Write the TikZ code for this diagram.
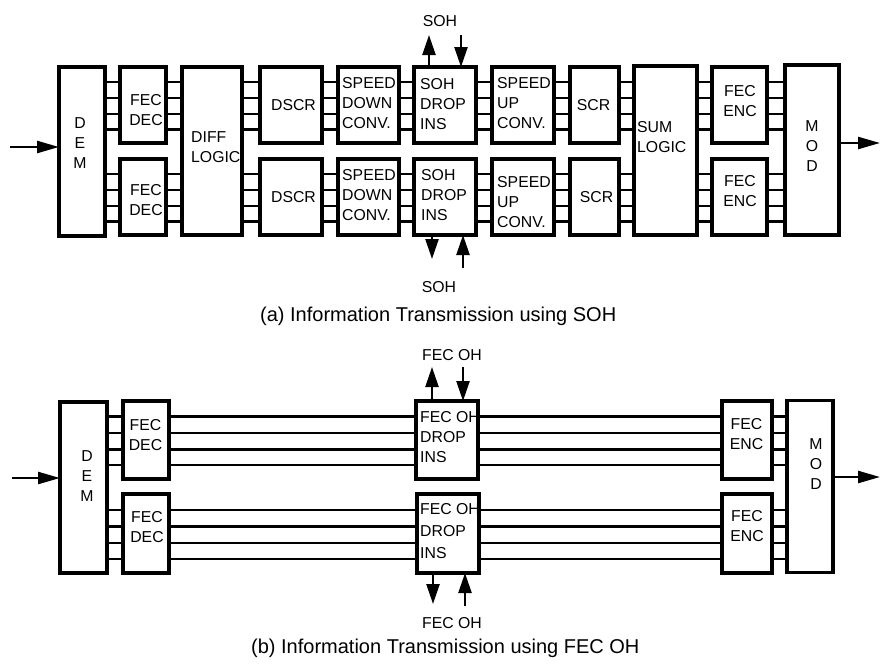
\documentclass[tikz,border=0pt]{standalone}
\usepackage{fontspec}
\setmainfont{Liberation Sans}
\usetikzlibrary{arrows.meta,calc}
\tikzset{
 box/.style={draw, line width=3.1pt, inner sep=0pt, outer sep=0pt},
 link/.style={line width=2.5pt},
 txt/.style={font=\fontsize{15.8}{20}\selectfont, inner sep=0pt, align=center},
 ltxt/.style={txt, align=left, anchor=west},
 captxt/.style={font=\fontsize{20}{24}\selectfont, inner sep=0pt, anchor=west},
 arr/.style={line width=2.4pt, -{Triangle[length=22pt,width=12pt]}},
 varr/.style={line width=2.4pt, -{Triangle[length=20pt,width=13pt]}},
}
\newcommand\mklinks[3]{%
  \foreach \f in {0.2,0.41,0.62,0.82}{%
    \coordinate (lk) at ($(#3.north)!\f!(#3.south)$);
    \draw[link] (#1.east |- lk) -- (#2.west |- lk);
  }%
}
\begin{document}
\begin{tikzpicture}[x=1pt,y=-1pt]
\useasboundingbox (0,0) rectangle (880,664);
% ================= (a) =================
\node[box, minimum width=46pt, minimum height=169pt] (dem) at (82,151.5) {};
\node[box, minimum width=46pt, minimum height=76pt] (fd1) at (143,105) {};
\node[box, minimum width=46pt, minimum height=76pt] (fd2) at (143,197) {};
\node[box, minimum width=60pt, minimum height=168pt] (diff) at (212,151) {};
\node[box, minimum width=62pt, minimum height=76pt] (ds1) at (291,105) {};
\node[box, minimum width=62pt, minimum height=76pt] (ds2) at (291,197) {};
\node[box, minimum width=61pt, minimum height=76pt] (sd1) at (368.5,105) {};
\node[box, minimum width=61pt, minimum height=76pt] (sd2) at (368.5,197) {};
\node[box, minimum width=62pt, minimum height=76pt] (soh1) at (445,105) {};
\node[box, minimum width=62pt, minimum height=76pt] (soh2) at (445,197) {};
\node[box, minimum width=62pt, minimum height=76pt] (su1) at (523,105) {};
\node[box, minimum width=62pt, minimum height=76pt] (su2) at (523,197) {};
\node[box, minimum width=49pt, minimum height=76pt] (scr1) at (594.5,105) {};
\node[box, minimum width=49pt, minimum height=76pt] (scr2) at (594.5,197) {};
\node[box, minimum width=63pt, minimum height=169pt] (sum) at (665.5,150.5) {};
\node[box, minimum width=55pt, minimum height=76pt] (fe1) at (739.5,105) {};
\node[box, minimum width=55pt, minimum height=76pt] (fe2) at (739.5,197) {};
\node[box, minimum width=54pt, minimum height=170pt] (mod) at (812,150) {};
% texts
\node[txt] (tdem) at (80,143) {D\\E\\M};
\node[txt] (tfd1) at (146,110) {FEC\\DEC};
\node[txt] (tfd2) at (146,200) {FEC\\DEC};
\node[ltxt] (tdiff) at (191,147.5) {DIFF\\LOGIC};
\node[txt] (tds1) at (293.5,105) {DSCR};
\node[txt] (tds2) at (293.5,197) {DSCR};
\node[ltxt] (tsd1) at (342,103) {SPEED\\DOWN\\CONV.};
\node[ltxt] (tsd2) at (342,195) {SPEED\\DOWN\\CONV.};
\node[ltxt] (tsoh1) at (420,104) {SOH\\DROP\\INS};
\node[ltxt] (tsoh2) at (421,195) {SOH\\DROP\\INS};
\node[ltxt] (tsu1) at (497,103) {SPEED\\UP\\ CONV.};
\node[ltxt] (tsu2) at (497,202.5) {SPEED\\UP\\CONV.};
\node[txt] (tscr1) at (593.5,105) {SCR};
\node[txt] (tscr2) at (596.5,197) {SCR};
\node[ltxt] (tsum) at (637,137) {SUM\\LOGIC};
\node[txt] (tfe1) at (740,101.5) {FEC\\ ENC};
\node[txt] (tfe2) at (740,191) {FEC\\ENC};
\node[txt] (tmod) at (812,146) {M\\O\\D};
% links
\mklinks{dem}{fd1}{fd1}
\mklinks{dem}{fd2}{fd2}
\mklinks{fd1}{diff}{fd1}
\mklinks{fd2}{diff}{fd2}
\mklinks{diff}{ds1}{ds1}
\mklinks{diff}{ds2}{ds2}
\mklinks{ds1}{sd1}{ds1}
\mklinks{ds2}{sd2}{ds2}
\mklinks{sd1}{soh1}{sd1}
\mklinks{sd2}{soh2}{sd2}
\mklinks{soh1}{su1}{soh1}
\mklinks{soh2}{su2}{soh2}
\mklinks{su1}{scr1}{su1}
\mklinks{su2}{scr2}{su2}
\mklinks{scr1}{sum}{scr1}
\mklinks{scr2}{sum}{scr2}
\mklinks{sum}{fe1}{fe1}
\mklinks{sum}{fe2}{fe2}
\mklinks{fe1}{mod}{fe1}
\mklinks{fe2}{mod}{fe2}
% in/out arrows
\coordinate (ina) at (10,147);
\coordinate (outa) at (880,143);
\draw[arr] (ina) -- (dem.west |- ina);
\draw[arr] (mod.east |- outa) -- (outa);
% SOH arrows
\coordinate (sa1) at (429,35);
\coordinate (sa2) at (461,35);
\coordinate (sa3) at (432,259);
\coordinate (sa4) at (463,268);
\draw[varr] (soh1.north -| sa1) -- (sa1);
\draw[varr] (sa2) -- (soh1.north -| sa2);
\draw[varr] (soh2.south -| sa3) -- (sa3);
\draw[varr] (sa4) -- (soh2.south -| sa4);
\node[txt] (lsoh1) at (440,21) {SOH};
\node[txt] (lsoh2) at (439,287) {SOH};
\node[captxt] (capa) at (260,316) {(a) Information Transmission using SOH};
% ================= (b) =================
\node[box, minimum width=47pt, minimum height=171pt] (dem2) at (83.5,487.5) {};
\node[box, minimum width=46pt, minimum height=78pt] (fd3) at (146,440) {};
\node[box, minimum width=46pt, minimum height=79pt] (fd4) at (146,533.5) {};
\node[box, minimum width=62pt, minimum height=78pt] (oh1) at (447,440) {};
\node[box, minimum width=62pt, minimum height=79pt] (oh2) at (448,533.5) {};
\node[box, minimum width=50pt, minimum height=78pt] (fe3) at (747,440) {};
\node[box, minimum width=50pt, minimum height=79pt] (fe4) at (747,533.5) {};
\node[box, minimum width=46pt, minimum height=172pt] (mod2) at (810,486.5) {};
\node[txt] (tdem2) at (87,476) {D\\E\\M};
\node[txt] (tfd3) at (145.5,435.5) {FEC\\DEC};
\node[txt] (tfd4) at (147,527.5) {FEC\\DEC};
\node[ltxt] (toh1) at (420,437.5) {FEC OH\\DROP\\INS};
\node[ltxt, font=\fontsize{15.8}{22}\selectfont] (toh2) at (420,531) {FEC OH\\DROP\\INS};
\node[txt] (tfe3) at (746.5,434) {FEC\\ENC};
\node[txt] (tfe4) at (747,526.5) {FEC\\ENC};
\node[txt] (tmod2) at (816,464) {M\\O\\D};
\mklinks{dem2}{fd3}{fd3}
\mklinks{dem2}{fd4}{fd4}
\mklinks{fd3}{oh1}{fd3}
\mklinks{fd4}{oh2}{fd4}
\mklinks{oh1}{fe3}{oh1}
\mklinks{oh2}{fe4}{oh2}
\mklinks{fe3}{mod2}{fe3}
\mklinks{fe4}{mod2}{fe4}
\coordinate (inb) at (12,478);
\coordinate (outb) at (880,477);
\draw[arr] (inb) -- (dem2.west |- inb);
\draw[arr] (mod2.east |- outb) -- (outb);
\coordinate (fa1) at (432,367);
\coordinate (fa2) at (463,367);
\coordinate (fa3) at (433,604);
\coordinate (fa4) at (465,606);
\draw[varr] (oh1.north -| fa1) -- (fa1);
\draw[varr] (fa2) -- (oh1.north -| fa2);
\draw[varr] (oh2.south -| fa3) -- (fa3);
\draw[varr] (fa4) -- (oh2.south -| fa4);
\node[txt] (lfoh1) at (452,355) {FEC OH};
\node[txt] (lfoh2) at (452,623) {FEC OH};
\node[captxt] (capb) at (251,648) {(b) Information Transmission using FEC OH};
\end{tikzpicture}
\end{document}
